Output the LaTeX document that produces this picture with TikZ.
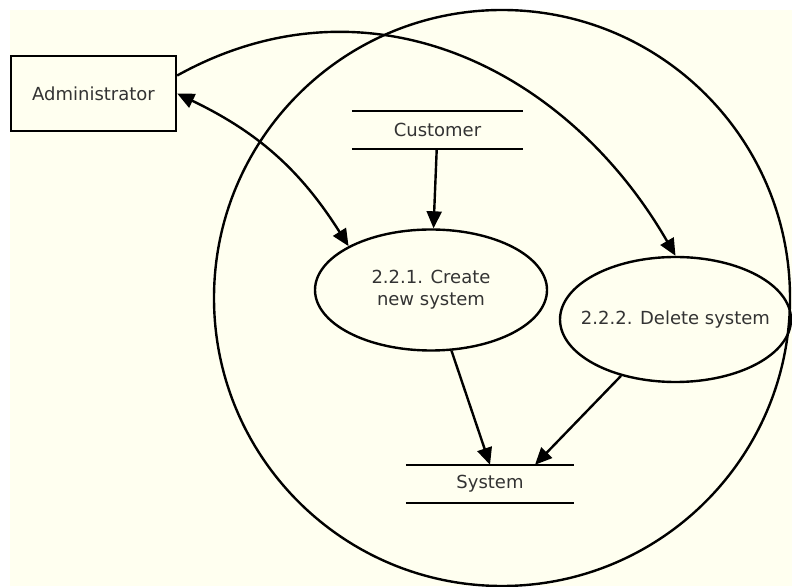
\documentclass[tikz,border=0pt]{standalone}
\usepackage{fontspec}
\setmainfont{DejaVu Sans}
\usetikzlibrary{arrows.meta,shapes.geometric}
\definecolor{paper}{RGB}{255,255,240}
\definecolor{ink}{RGB}{51,51,51}

\begin{document}
\begin{tikzpicture}[x=1pt,y=1pt,line width=2.4pt,
    font=\fontsize{18}{22}\selectfont,
    >={Triangle[length=17pt,width=15pt]},
    every edge/.style={draw,->}]

  \useasboundingbox (0,0) rectangle (792,586);
  \fill[paper] (10,0) rectangle (792,576);

  \node (bound) [circle,draw,minimum size=576pt] at (502,288) {};

  \begin{scope}[every node/.style={text=ink}]
    \node (admin) [draw,minimum width=165pt,minimum height=75pt] at (93.5,492.5) {Administrator};
    \node (cust)  [minimum width=169pt,minimum height=36pt] at (437.5,456) {Customer};
    \node (sys)   [minimum width=166pt,minimum height=36pt] at (490,102) {System};
  \end{scope}

  \begin{scope}[every node/.style={ellipse,draw,text=ink,align=center,inner sep=0pt}]
    \node (new) [minimum width=232pt,minimum height=121pt] at (431,296) {2.2.1. Create\\new system};
    \node (del) [minimum width=231pt,minimum height=125pt,inner xsep=-15pt] at (675.5,266.5) {2.2.2. Delete system};
  \end{scope}

  % store lines
  \draw (cust.north west) -- (cust.north east) (cust.south west) -- (cust.south east);
  \draw (sys.north west) -- (sys.north east) (sys.south west) -- (sys.south east);

  \path (cust) edge (new);
  \path (new) edge (sys.north);
  \path (del) edge ([xshift=45pt]sys.north);
  \path (admin.east) edge[<->,bend left=16] (new.152);
  \path ([yshift=18pt]admin.east) edge[out=29,in=120,looseness=1.05] (del.north);

\end{tikzpicture}
\end{document}
